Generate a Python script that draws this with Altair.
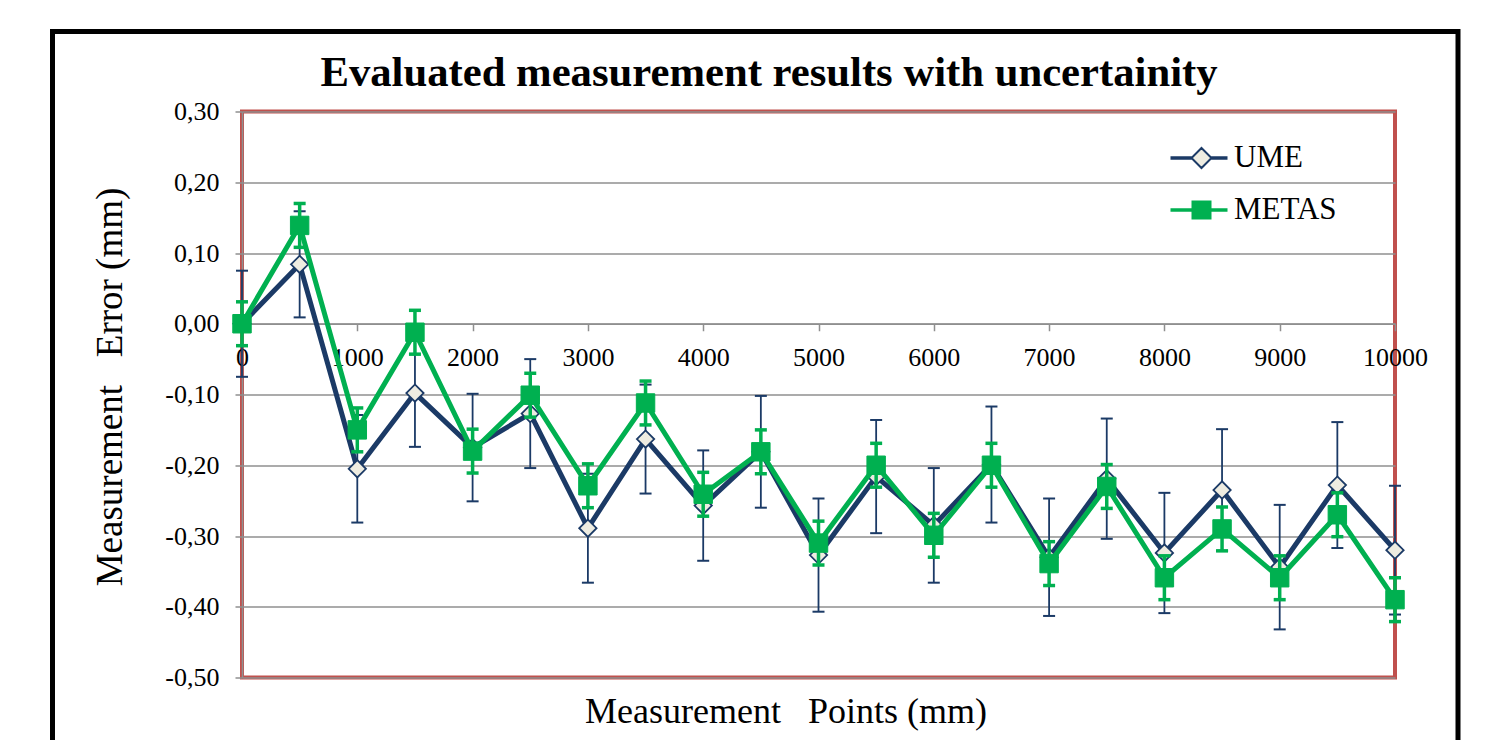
import altair as alt
import pandas as pd

# ---------------- data ----------------
x_mm = [0, 500, 1000, 1500, 2000, 2500, 3000, 3500, 4000, 4500, 5000,
        5500, 6000, 6500, 7000, 7500, 8000, 8500, 9000, 9500, 10000]
ume = [0.000, 0.084, -0.205, -0.098, -0.175, -0.127, -0.289, -0.163, -0.257, -0.181, -0.327,
       -0.216, -0.285, -0.199, -0.330, -0.219, -0.324, -0.235, -0.344, -0.228, -0.320]
ume_unc = [0.075, 0.075, 0.076, 0.076, 0.076, 0.077, 0.077, 0.077, 0.078, 0.079, 0.080,
           0.080, 0.081, 0.082, 0.083, 0.085, 0.085, 0.086, 0.088, 0.089, 0.091]
metas = [0.000, 0.139, -0.150, -0.012, -0.180, -0.101, -0.229, -0.112, -0.241, -0.181, -0.310,
         -0.200, -0.299, -0.200, -0.339, -0.230, -0.359, -0.290, -0.359, -0.270, -0.390]
metas_unc = [0.031, 0.031, 0.031, 0.031, 0.031, 0.031, 0.031, 0.031, 0.031, 0.031, 0.031,
             0.031, 0.031, 0.031, 0.031, 0.031, 0.031, 0.031, 0.031, 0.031, 0.031]
series_names = ["UME", "METAS"]
x_ticks = [0, 1000, 2000, 3000, 4000, 5000, 6000, 7000, 8000, 9000, 10000]
y_ticks = [-0.5, -0.4, -0.3, -0.2, -0.1, 0.0, 0.1, 0.2, 0.3]

rows = []
for name, vals, unc in [("UME", ume, ume_unc), ("METAS", metas, metas_unc)]:
    for xi, v, u in zip(x_mm, vals, unc):
        rows.append({"x": xi, "y": v, "lo": v - u, "hi": v + u, "series": name})
df = pd.DataFrame(rows)

# ---------------- style ----------------
FONT = "Liberation Serif"
NAVY = "#1B3A66"
GREEN = "#00B050"
DFILL = "#EEECE1"
RED = "#C0504D"
GRID = "#8F8F8F"

W, H = 1153, 566
zero_offset = -(H - H * 0.3 / 0.8)

xscale = alt.Scale(domain=[0, 10000], nice=False, zero=False)
yscale = alt.Scale(domain=[-0.5, 0.3], nice=False, zero=False)

x_axis = alt.Axis(
    values=x_ticks, format="d", offset=zero_offset, grid=False,
    domainColor=GRID, domainWidth=1.5, tickColor=GRID, tickWidth=1.5, tickSize=7,
    labelFont=FONT, labelFontSize=26, labelColor="black", labelBaseline="alphabetic",
    labelPadding=35, labelFlush=False, labelOverlap=False,
    title="Measurement\u00a0\u00a0 Points (mm)", titleFont=FONT, titleFontSize=36,
    titleFontWeight="normal", titleColor="black", titleBaseline="alphabetic",
    titleX=543.5, titleY=399, titleAnchor="middle", titleAlign="center",
)
y_axis = alt.Axis(
    values=y_ticks, grid=True, gridColor=GRID, gridWidth=1.5,
    labelExpr="replace(replace(format(datum.value, '.2f'), '.', ','), '\u2212', '-')",
    domainColor=GRID, domainWidth=1.5, tickColor=GRID, tickWidth=1.5, tickSize=7,
    labelFont=FONT, labelFontSize=26, labelColor="black", labelPadding=16,
    title="Measurement\u00a0\u00a0 Error (mm)", titleFont=FONT, titleFontSize=37,
    titleFontWeight="normal", titleColor="black", titleAngle=270,
    titleBaseline="alphabetic", titleAlign="center", titleX=-121, titleY=275,
)


def X(field="x"):
    return alt.X(f"{field}:Q", scale=xscale, axis=x_axis)


def Y(field):
    return alt.Y(f"{field}:Q", scale=yscale, axis=y_axis)


def series_layers(name, color, rule_w, cap_w, point_mark):
    d = alt.Chart(df).transform_filter(alt.datum.series == name)
    rule = d.mark_rule(color=color, strokeWidth=rule_w).encode(x=X(), y=Y("lo"), y2="hi:Q")
    cap_lo = d.mark_tick(color=color, thickness=cap_w, size=12, orient="horizontal",
                         opacity=1).encode(x=X(), y=Y("lo"))
    cap_hi = d.mark_tick(color=color, thickness=cap_w, size=12, orient="horizontal",
                         opacity=1).encode(x=X(), y=Y("hi"))
    line = d.mark_line(color=color, strokeWidth=5).encode(x=X(), y=Y("y"))
    pts = d.mark_point(**point_mark).encode(x=X(), y=Y("y"))
    return [rule, cap_lo, cap_hi, line, pts]


ume_layers = series_layers("UME", NAVY, 1.8, 2, dict(
    shape="diamond", filled=True, fill=DFILL, stroke=NAVY, strokeWidth=1.8,
    size=300, opacity=1))
metas_layers = series_layers("METAS", GREEN, 3.5, 3.5, dict(
    shape="square", filled=True, fill=GREEN, stroke=GREEN, strokeWidth=1,
    size=340, opacity=1))

# legend (custom symbols: line + marker), driven by a clipped, invisible layer
legend_paths = [
    "M-3,-0.08H-1V0.08H-3Z M0,-1L1,0L0,1L-1,0Z M1,-0.08H2.5V0.08H1Z",
    "M-3,-0.08H-1V0.08H-3Z M-0.9,-0.85H0.9V0.85H-0.9Z M0.9,-0.08H2.5V0.08H0.9Z",
]
leg = alt.Legend(
    title=None, orient="none", legendX=944, legendY=31, padding=0,
    labelFont=FONT, labelFontSize=31, labelColor="black", labelOffset=17,
    rowPadding=20, symbolSize=400, symbolStrokeWidth=2, labelLimit=300,
)
legend_layer = (
    alt.Chart(df)
    .transform_filter(alt.datum.x == 0)
    .transform_calculate(far="5")
    .mark_point(size=400, strokeWidth=2, opacity=1, clip=True)
    .encode(
        x=X(), y=Y("far"),
        shape=alt.Shape("series:N", scale=alt.Scale(domain=series_names, range=legend_paths), legend=leg),
        fill=alt.Fill("series:N", scale=alt.Scale(domain=series_names, range=[DFILL, GREEN]), legend=leg),
        stroke=alt.Stroke("series:N", scale=alt.Scale(domain=series_names, range=[NAVY, GREEN]), legend=leg),
    )
)

# outer black frame of the figure
frame = alt.Chart(pd.DataFrame({"k": [0]})).mark_rect(
    fill=None, stroke="black", strokeWidth=5, clip=False
).encode(
    x=alt.value(-189.5), x2=alt.value(1216), y=alt.value(-80), y2=alt.value(680)
)

chart = (
    alt.layer(frame, *ume_layers, *metas_layers, legend_layer)
    .properties(
        width=W, height=H, background="white",
        padding={"left": 42, "top": 20.5, "right": 0, "bottom": 0},
        title=alt.TitleParams(
            "Evaluated measurement results with uncertainity",
            font=FONT, fontSize=42.7, fontWeight="bold", color="black",
            anchor="middle", frame="group", dx=-49.5, dy=124,
            baseline="alphabetic", offset=24,
        ),
    )
    .configure_view(stroke=RED, strokeWidth=4)
)

chart.save("out.html", embed_options={"renderer": "svg", "actions": False})
